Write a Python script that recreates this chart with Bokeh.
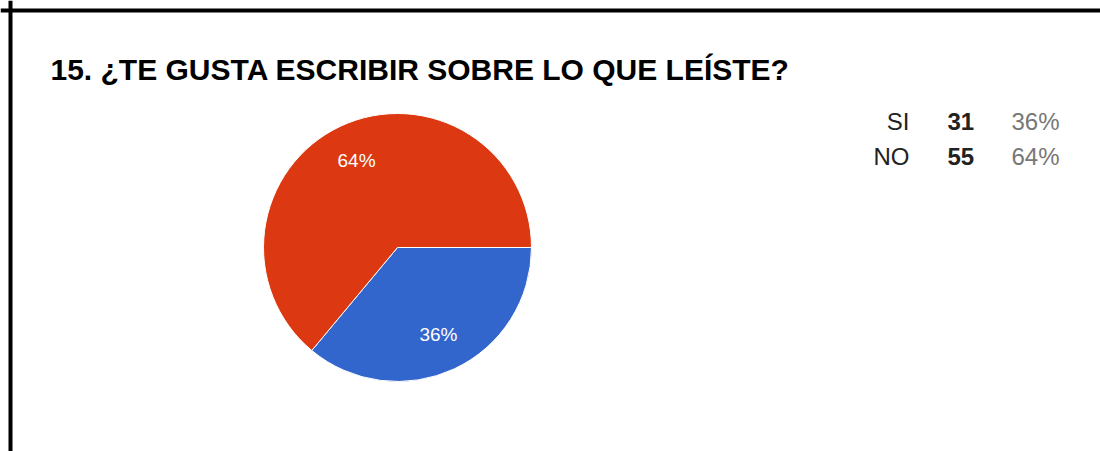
import numpy as np
from bokeh.plotting import figure
from bokeh.models import Range1d, Span, ColumnDataSource
from bokeh.core.properties import value
from bokeh.embed import file_html
from bokeh.resources import INLINE

# ---- data ----
title = "15. ¿TE GUSTA ESCRIBIR SOBRE LO QUE LEÍSTE?"
categories = ["SI", "NO"]
counts = [31, 55]
colors = ["#3366CC", "#DC3912"]

# ---- layout constants (pixels) ----
W, H = 1100, 451
OX, OY = 0, 0


def dx(sx):
    return sx - OX


def dy(sy):
    return (OY + H) - sy


FONT = "Liberation Sans"

p = figure(width=W, height=H, x_range=Range1d(0, W), y_range=Range1d(0, H),
           output_backend="svg", toolbar_location=None, min_border=0,
           x_axis_location=None, y_axis_location=None)
p.grid.visible = False
p.outline_line_color = None
p.background_fill_color = "white"
p.border_fill_color = "white"

# frame borders (left and top)
p.add_layout(Span(location=dx(10), dimension="height", line_color="black", line_width=4))
p.add_layout(Span(location=dy(10), dimension="width", line_color="black", line_width=4))

# title
p.text(x=[dx(50)], y=[dy(68.5)], text=[title], text_font=value(FONT),
       text_font_size="30px", text_font_style="bold", text_color="#000000",
       text_baseline="alphabetic", text_align="left")

# pie
total = sum(counts)
fr = np.array(counts) / total
cum = np.concatenate([[0], np.cumsum(fr)])
start = -2 * np.pi * cum[:-1]
end = -2 * np.pi * cum[1:]
cx, cy, r = dx(397), dy(247), 134
pcts = [f"{round(f * 100):.0f}%" for f in fr]
mid = (start + end) / 2
lx = cx + 0.72 * r * np.cos(mid)
ly = cy + 0.72 * r * np.sin(mid)

src = ColumnDataSource(dict(start=start, end=end, color=colors, cat=categories,
                            pct=pcts, lx=lx, ly=ly))
p.wedge(x=cx, y=cy, radius=r, start_angle="start", end_angle="end",
        direction="clock", fill_color="color", line_color="white", line_width=1,
        source=src)
p.text(x="lx", y="ly", text="pct", source=src, text_font=value(FONT),
       text_font_size="19px", text_color="white", text_align="center",
       text_baseline="middle")

# legend table
rows_y = [dy(121), dy(156)]
lsrc = ColumnDataSource(dict(y=rows_y, cat=categories,
                             cnt=[str(c) for c in counts], pct=pcts))
p.text(x=dx(909), y="y", text="cat", source=lsrc, text_font=value(FONT),
       text_font_size="24px", text_color="#222222", text_align="right",
       text_baseline="alphabetic")
p.text(x=dx(947), y="y", text="cnt", source=lsrc, text_font=value(FONT),
       text_font_size="24px", text_font_style="bold", text_color="#222222",
       text_align="left", text_baseline="alphabetic")
p.text(x=dx(1011), y="y", text="pct", source=lsrc, text_font=value(FONT),
       text_font_size="24px", text_color="#777777", text_align="left",
       text_baseline="alphabetic")

open("out.html", "w").write(file_html(p, INLINE))
